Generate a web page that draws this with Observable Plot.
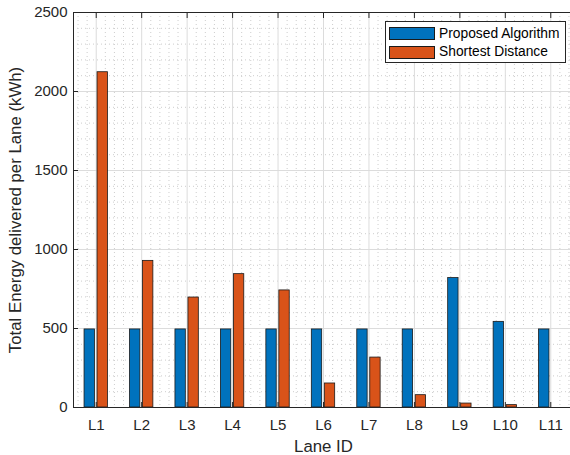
<!DOCTYPE html>
<html>
<head>
<meta charset="utf-8">
<script src="https://cdn.jsdelivr.net/npm/d3@7"></script>
<script src="https://cdn.jsdelivr.net/npm/@observablehq/plot@0.6"></script>
<style>
  html, body { margin: 0; padding: 0; background: #fff; }
  #wrap { position: relative; width: 570px; height: 455px; overflow: hidden;
          font-family: "Liberation Sans", Arial, Helvetica, sans-serif; }
  #wrap svg { display: block; }
  .legend { position: absolute; left: 385px; top: 21px; width: 181px; height: 42px;
            border: 1px solid #262626; background: #fff; box-sizing: border-box; }
  .legend .row { position: absolute; left: 3px; height: 14px; display: flex; align-items: center; }
  .legend .sw { width: 46px; height: 13px; border: 1px solid #1a1a1a; box-sizing: border-box; }
  .legend .lb { margin-left: 4px; font-size: 13.8px; color: #000; white-space: nowrap; line-height: 14px; }
</style>
</head>
<body>
<div id="wrap"></div>
<script>
// ---- data ----
const lanes = ["L1","L2","L3","L4","L5","L6","L7","L8","L9","L10","L11"];
const proposed = [494, 494, 494, 494, 494, 494, 494, 494, 819, 542, 494];
const shortest = [2122, 928, 696, 844, 741, 152, 316, 78, 25, 15, 0];
const seriesNames = ["Proposed Algorithm", "Shortest Distance"];
const seriesColors = ["#0072BD", "#D95319"];
const yTicks = [0, 500, 1000, 1500, 2000, 2500];
const xLabel = "Lane ID";
const yLabel = "Total Energy delivered per Lane (kWh)";

// grouped-bar table (MATLAB-style offsets within each group)
const rows = [];
lanes.forEach((lane, i) => {
  const c = i + 1;
  rows.push({lane, series: seriesNames[0], value: proposed[i], base: 0, x1: c - 0.257, x2: c - 0.029});
  rows.push({lane, series: seriesNames[1], value: shortest[i], base: 0, x1: c + 0.029, x2: c + 0.257});
});
const xTicks = lanes.map((d, i) => i + 1);
const xMinor = d3.range(3, 58).filter(k => k % 5 !== 0).map(k => k * 0.2);
const yMinor = d3.range(100, 2500, 100).filter(v => v % 500 !== 0);

const axisColor = "#262626";
const chart = Plot.plot({
  width: 570,
  height: 455,
  marginLeft: 73,
  marginRight: -3,
  marginTop: 12,
  marginBottom: 48,
  x: {type: "linear", domain: [0.5, 11.5]},
  y: {domain: [0, 2500]},
  color: {domain: seriesNames, range: seriesColors},
  style: {fontFamily: '"Liberation Sans", Arial, Helvetica, sans-serif', fontSize: "15px", color: axisColor, background: "#fff"},
  marks: [
    Plot.ruleX(xMinor, {stroke: "#cdcdcd", strokeDasharray: "1,3", strokeWidth: 1}),
    Plot.ruleY(yMinor, {stroke: "#cdcdcd", strokeDasharray: "1,3", strokeWidth: 1}),
    Plot.ruleX(xTicks, {stroke: "#dcdcdc", strokeWidth: 1}),
    Plot.ruleY(yTicks, {stroke: "#dcdcdc", strokeWidth: 1}),
    Plot.rect(rows, {x1: "x1", x2: "x2", y1: "base", y2: "value", fill: "series", stroke: "#1a1a1a", strokeWidth: 0.8}),
    Plot.frame({stroke: axisColor}),
    Plot.axisX(xTicks, {anchor: "bottom", tickSize: -5, tickFormat: () => "", label: null, stroke: axisColor}),
    Plot.axisX(xTicks, {anchor: "top", tickSize: -5, tickFormat: () => "", label: null, stroke: axisColor}),
    Plot.axisY(yTicks, {anchor: "left", tickSize: -5, tickFormat: () => "", label: null, stroke: axisColor}),
    Plot.axisX(xTicks, {anchor: "bottom", tickSize: 0, tickPadding: 12, tickFormat: i => lanes[i - 1], label: null, fontSize: 15, fill: axisColor}),
    Plot.axisY(yTicks, {anchor: "left", tickSize: 0, tickPadding: 6, tickFormat: d => String(d), label: null, fontSize: 15, fill: axisColor}),
    Plot.text([xLabel], {frameAnchor: "bottom", dy: 44, lineAnchor: "bottom", textAnchor: "middle", fontSize: 16.8, fill: axisColor}),
    Plot.text([yLabel], {frameAnchor: "left", dx: -53, rotate: -90, lineAnchor: "bottom", textAnchor: "middle", fontSize: 16.8, fill: axisColor})
  ]
});
const wrap = document.getElementById("wrap");
wrap.appendChild(chart);

// legend (inside the axes, top right)
const legend = document.createElement("div");
legend.className = "legend";
seriesNames.forEach((name, k) => {
  const row = document.createElement("div");
  row.className = "row";
  row.style.top = (k === 0 ? 4.5 : 23) + "px";
  const sw = document.createElement("div");
  sw.className = "sw";
  sw.style.background = seriesColors[k];
  const lb = document.createElement("span");
  lb.className = "lb";
  lb.textContent = name;
  row.appendChild(sw);
  row.appendChild(lb);
  legend.appendChild(row);
});
wrap.appendChild(legend);
</script>
</body>
</html>
